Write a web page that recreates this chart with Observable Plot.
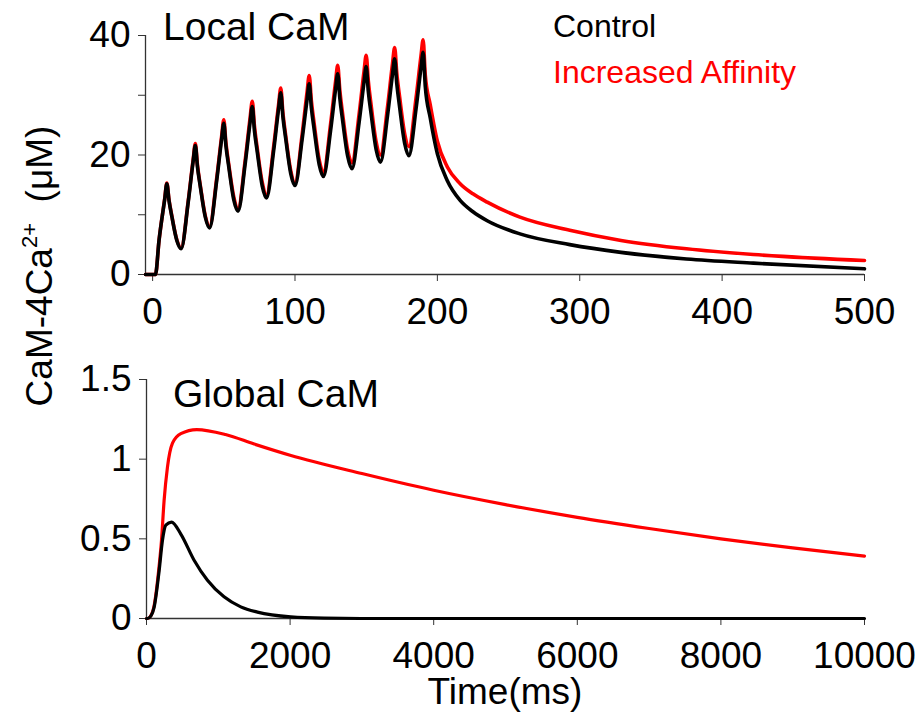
<!DOCTYPE html>
<html>
<head>
<meta charset="utf-8">
<script src="https://cdn.jsdelivr.net/npm/d3@7"></script>
<script src="https://cdn.jsdelivr.net/npm/@observablehq/plot@0.6"></script>
<style>
  html, body { margin: 0; padding: 0; background: #fff; }
  #wrap { position: relative; width: 924px; height: 718px; font-family: Arial, "Liberation Sans", sans-serif; }
  #wrap > svg { position: absolute; left: 0; }
  #overlay { position: absolute; left: 0; top: 0; pointer-events: none; }
</style>
</head>
<body>
<div id="wrap"></div>
<script>
// ---------- Data ----------
// Local CaM (top panel): time in ms, CaM-4Ca2+ in µM
const localTime = [
  -5, 2, 4.5, 8.5, 10, 11.5, 13.5, 17, 20,
  25, 28.5, 30, 31.5, 33.5, 37, 40,
  45, 48.5, 50, 51.5, 53.5, 57, 60,
  65, 68.5, 70, 71.5, 73.5, 77, 80,
  85, 88.5, 90, 91.5, 93.5, 97, 100,
  105, 108.5, 110, 111.5, 113.5, 117, 120,
  125, 128.5, 130, 131.5, 133.5, 137, 140,
  145, 148.5, 150, 151.5, 153.5, 157, 160,
  165, 168.5, 170, 171.5, 173.5, 177, 180,
  185, 188.5, 190, 191.5, 195, 200, 207, 216, 225, 235, 258, 293, 329, 375, 422, 500];
const localControl = [
  0, 0, 5.7, 12.6, 15.2, 12.4, 9.7, 5.7, 4.3,
  12.1, 19.0, 21.6, 18.0, 14.7, 9.6, 7.8,
  15.7, 22.7, 25.3, 21.5, 18.0, 12.5, 10.6,
  18.5, 25.5, 28.1, 24.1, 20.5, 14.8, 12.8,
  20.7, 27.8, 30.4, 26.4, 22.7, 16.9, 14.9,
  22.6, 29.3, 31.9, 27.9, 24.2, 18.4, 16.4,
  24.1, 31.0, 33.6, 29.5, 25.7, 19.8, 17.7,
  25.4, 32.2, 34.8, 30.6, 26.8, 20.9, 18.8,
  26.6, 33.5, 36.1, 31.9, 28.0, 22.0, 19.9,
  27.7, 34.6, 37.2, 31.5, 26.2, 20.2, 15.7, 12.4, 10.5, 9.0, 6.8, 5.0, 3.7, 2.6, 1.9, 0.95];
const localAffinity = [
  0, 0, 5.7, 12.7, 15.3, 12.5, 9.8, 5.8, 4.4,
  12.3, 19.3, 21.9, 18.3, 14.9, 9.8, 8.0,
  16.1, 23.2, 25.9, 22.0, 18.4, 13.0, 11.0,
  19.1, 26.3, 29.0, 24.9, 21.1, 15.4, 13.3,
  21.4, 28.5, 31.2, 27.1, 23.2, 17.4, 15.3,
  23.4, 30.6, 33.3, 29.1, 25.2, 19.2, 17.1,
  25.2, 32.3, 35.0, 30.8, 26.8, 20.8, 18.7,
  26.8, 34.0, 36.7, 32.4, 28.3, 22.2, 20.0,
  28.1, 35.3, 38.0, 33.7, 29.7, 23.6, 21.4,
  29.5, 36.6, 39.3, 33.4, 28.4, 22.3, 18.0, 15.2, 13.5, 12.1, 9.6, 7.4, 5.7, 4.3, 3.35, 2.35];

// Global CaM (bottom panel)
const globalControlTime = [0, 14, 60, 106, 176, 222, 269, 348, 478, 663, 849, 1080, 1313, 1545, 2009, 2473, 3000, 10000];
const globalControl = [0, 0, 0.015, 0.07, 0.30, 0.49, 0.586, 0.605, 0.53, 0.366, 0.24, 0.136, 0.073, 0.04, 0.01, 0.002, 0, 0];
const globalAffinityTime = [0, 14, 60, 106, 176, 209, 245, 292, 362, 478, 700, 1100, 1500, 2000, 3000, 4000, 5000, 6000, 7000, 8000, 9000, 10000];
const globalAffinity = [0, 0, 0.017, 0.08, 0.33, 0.49, 0.74, 0.95, 1.10, 1.16, 1.186, 1.155, 1.095, 1.025, 0.91, 0.805, 0.715, 0.635, 0.565, 0.500, 0.443, 0.392];

// Axes ticks
const topXTicks = [0, 100, 200, 300, 400, 500];
const topYTicks = [0, 10, 20, 30, 40];
const topYLabelled = [0, 20, 40];
const bottomXTicks = [0, 2000, 4000, 6000, 8000, 10000];
const bottomYTicks = [0, 0.5, 1, 1.5];

// Text
const seriesNames = ["Control", "Increased Affinity"];
const seriesColors = ["#000000", "#ff0000"];
const panelTitles = ["Local CaM", "Global CaM"];

// ---------- Build tables ----------
const localRows = (vals, s) => localTime.map((t, i) => ({t, v: vals[i], s}));
const localData = [...localRows(localAffinity, seriesNames[1]), ...localRows(localControl, seriesNames[0])];
const gRows = (ts, vals, s) => ts.map((t, i) => ({t, v: vals[i], s}));
const globalData = [...gRows(globalAffinityTime, globalAffinity, seriesNames[1]), ...gRows(globalControlTime, globalControl, seriesNames[0])];

const FONT = 'Arial, "Liberation Sans", sans-serif';
const AX = "#333";

const topPlot = Plot.plot({
  width: 924, height: 345,
  marginLeft: 145, marginRight: 60, marginTop: 35, marginBottom: 71,
  style: {fontFamily: FONT, fontSize: "37px", color: "#000", background: "transparent"},
  x: {domain: [-5, 500]},
  y: {domain: [0, 40]},
  color: {domain: seriesNames, range: seriesColors},
  marks: [
    Plot.ruleY([0], {stroke: AX, strokeWidth: 1.3}),
    Plot.ruleX([-5], {stroke: AX, strokeWidth: 1.3}),
    Plot.axisX({ticks: topXTicks, tickSize: 7, tickPadding: 16, stroke: AX, fontSize: 37, label: null}),
    Plot.axisY({ticks: topYTicks, tickSize: 7, tickPadding: 8, stroke: AX, fontSize: 37, label: null,
      tickFormat: d => topYLabelled.includes(d) ? String(d) : ""}),
    Plot.line(localData, {x: "t", y: "v", z: "s", stroke: "s", strokeWidth: 3.6, curve: "monotone-x"})
  ]
});

const bottomPlot = Plot.plot({
  width: 924, height: 373,
  marginLeft: 146, marginRight: 60, marginTop: 34, marginBottom: 100,
  style: {fontFamily: FONT, fontSize: "37px", color: "#000", background: "transparent"},
  x: {domain: [0, 10000]},
  y: {domain: [0, 1.5]},
  color: {domain: seriesNames, range: seriesColors},
  marks: [
    Plot.ruleY([0], {stroke: AX, strokeWidth: 1.3}),
    Plot.ruleX([0], {stroke: AX, strokeWidth: 1.3}),
    Plot.axisX({ticks: bottomXTicks, tickSize: 7, tickPadding: 16, stroke: AX, fontSize: 37, label: null,
      tickFormat: d => String(d)}),
    Plot.axisY({ticks: bottomYTicks, tickSize: 7, tickPadding: 8, stroke: AX, fontSize: 37, label: null,
      tickFormat: d => String(d)}),
    Plot.line(globalData, {x: "t", y: "v", z: "s", stroke: "s", strokeWidth: 3.2, curve: "monotone-x"})
  ]
});

const wrap = document.getElementById("wrap");
topPlot.style.top = "0px";
bottomPlot.style.top = "345px";
wrap.appendChild(topPlot);
wrap.appendChild(bottomPlot);

// ---------- Overlay text: titles, legend, axis labels ----------
const ov = d3.select(wrap).append("svg")
  .attr("id", "overlay").attr("width", 924).attr("height", 718)
  .style("font-family", FONT);

ov.append("text").attr("x", 163).attr("y", 40).attr("font-size", 39).text(panelTitles[0]);
ov.append("text").attr("x", 173).attr("y", 407).attr("font-size", 39).text(panelTitles[1]);

ov.append("text").attr("x", 553).attr("y", 37).attr("font-size", 32).attr("fill", seriesColors[0]).text(seriesNames[0]);
ov.append("text").attr("x", 553).attr("y", 83).attr("font-size", 32).attr("fill", seriesColors[1]).text(seriesNames[1]);

ov.append("text").attr("x", 505).attr("y", 704).attr("font-size", 37).attr("text-anchor", "middle").text("Time(ms)");

const yl = ov.append("text")
  .attr("transform", "translate(52,266) rotate(-90)")
  .attr("text-anchor", "middle").attr("font-size", 37);
yl.append("tspan").text("CaM-4Ca");
yl.append("tspan").attr("font-size", 22).attr("dy", -15).text("2+");
yl.append("tspan").attr("dy", 15).text("\u00a0 (\u03bcM)");
</script>
</body>
</html>
